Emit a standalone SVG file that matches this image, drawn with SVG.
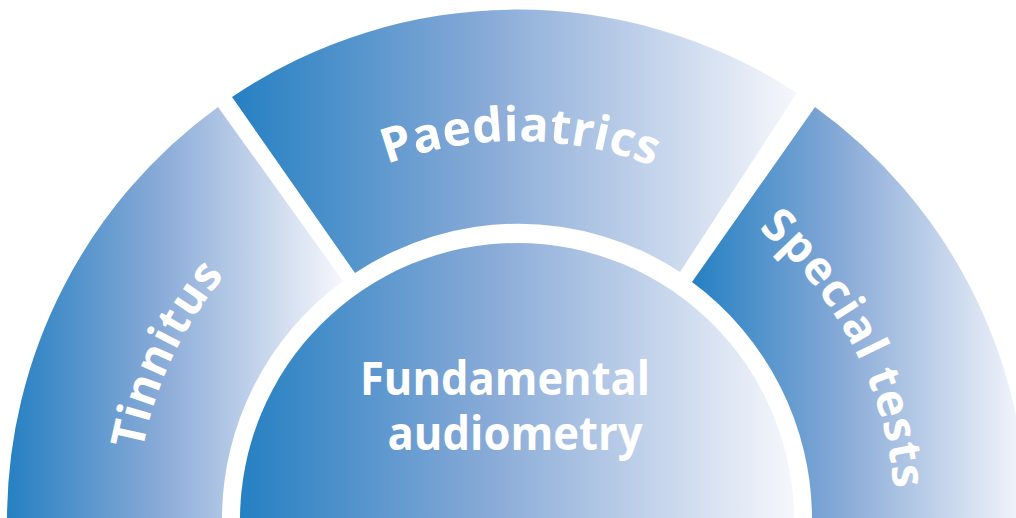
<svg xmlns="http://www.w3.org/2000/svg" width="1016" height="518" viewBox="0 0 1016 518">
  <defs>
    <linearGradient id="grad" x1="0" y1="0" x2="1" y2="0">
      <stop offset="0" stop-color="#2580c2"/>
      <stop offset="0.45" stop-color="#88aad7"/>
      <stop offset="1" stop-color="#f6f7fc"/>
    </linearGradient>
    <path id="arcTop" d="M 138 520 A 379 379 0 0 1 896 520"/>
    <path id="arcLeft" d="M 136 520 A 381 381 0 0 1 898 520"/>
    <path id="arcRight" d="M 139 520 A 378 378 0 0 1 895 520"/>
    <style>
      .seg { fill: url(#grad); }
      .lbl { fill: #ffffff; font-family: "Open Sans", "Liberation Sans", sans-serif; font-weight: 700; }
    </style>
  </defs>
  <rect width="1016" height="518" fill="#ffffff"/>

  <g id="tinnitus">
    <path class="seg" d="M 7 520 A 510 510 0 0 1 218 107 L 343 281 A 295 295 0 0 0 222 520 Z"/>
    <text class="lbl" font-size="46" letter-spacing="1"><textPath href="#arcLeft" startOffset="168" text-anchor="middle">Tinnitus</textPath></text>
  </g>

  <g id="paediatrics">
    <path class="seg" d="M 232 97 A 510 510 0 0 1 797 93 L 680 272 A 295 295 0 0 0 355 273 Z"/>
    <text class="lbl" font-size="48" letter-spacing="0.5"><textPath href="#arcTop" startOffset="50.3%" text-anchor="middle">Paediatrics</textPath></text>
  </g>

  <g id="special-tests">
    <path class="seg" d="M 815 107 A 510 510 0 0 1 1027 520 L 812 520 A 295 295 0 0 0 692 282 Z"/>
    <text class="lbl" font-size="46" letter-spacing="1.2"><textPath href="#arcRight" startOffset="1006" text-anchor="middle">Special tests</textPath></text>
  </g>

  <g id="fundamental-audiometry">
    <circle class="seg" cx="517" cy="520" r="277"/>
    <text class="lbl" font-size="46" text-anchor="middle">
      <tspan x="511" y="395" textLength="290" lengthAdjust="spacingAndGlyphs">Fundamental</tspan>
      <tspan x="515" y="450" textLength="255" lengthAdjust="spacingAndGlyphs">audiometry</tspan>
    </text>
  </g>

  <g id="connectors"/>
</svg>
